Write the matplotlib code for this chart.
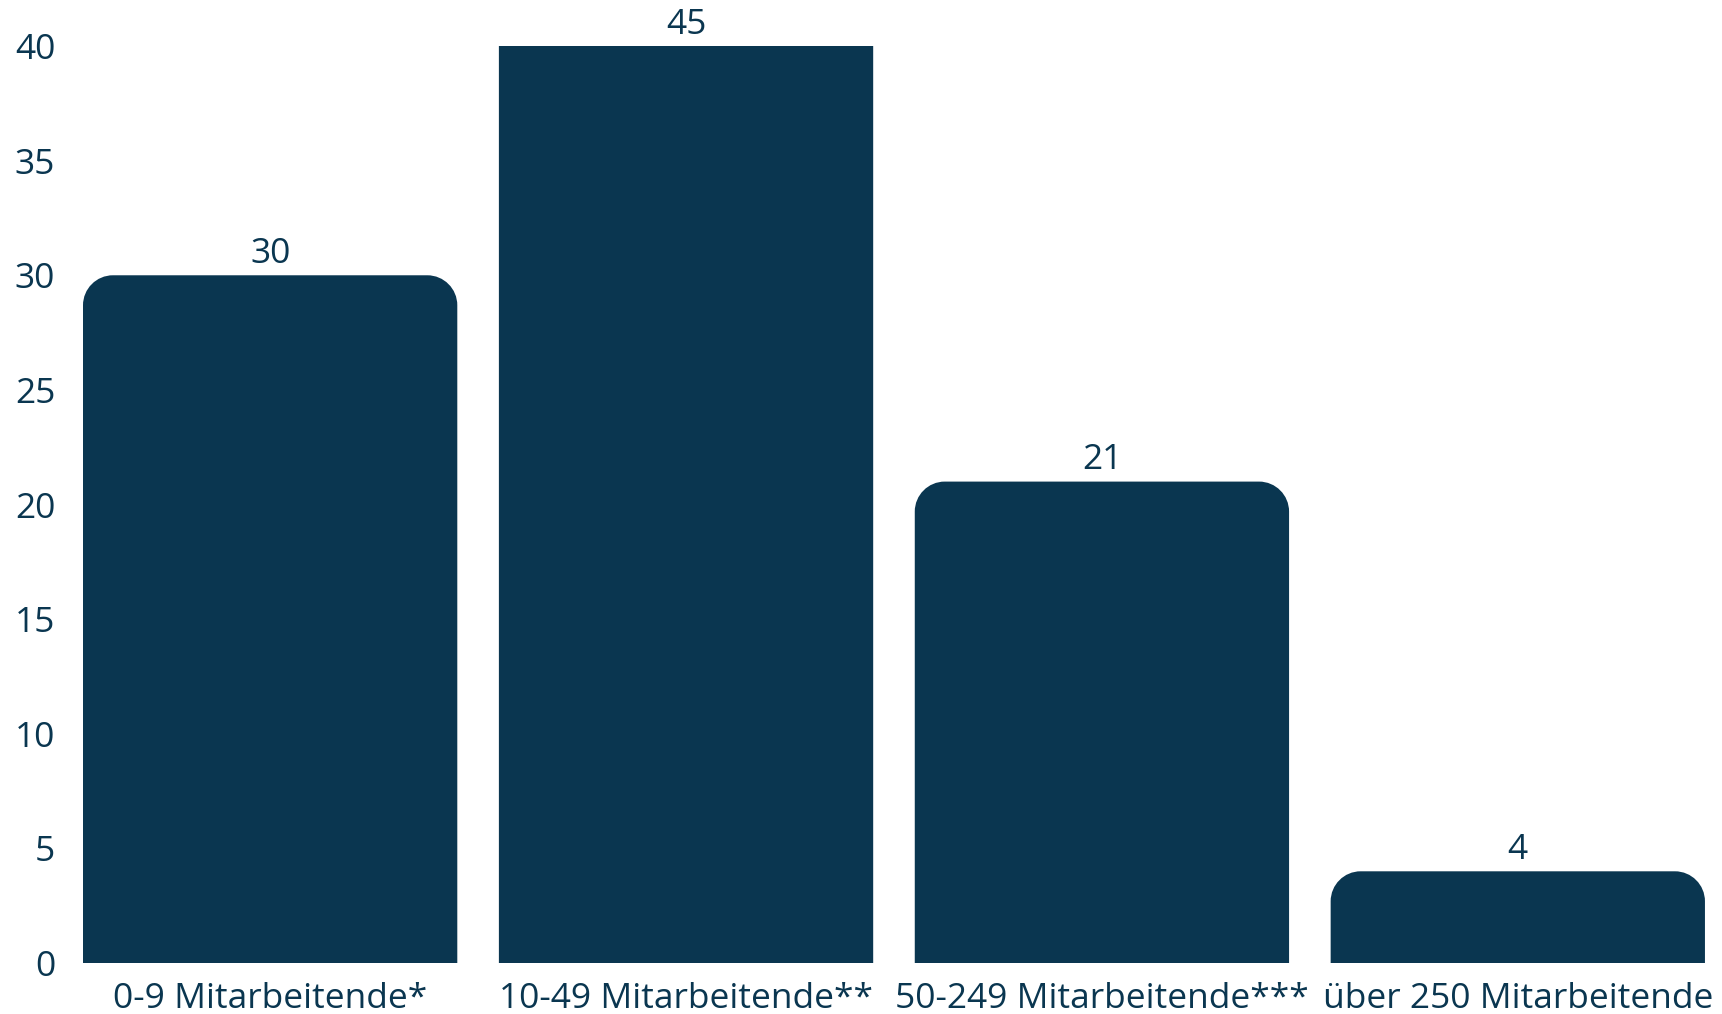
import matplotlib
matplotlib.use("Agg")
import matplotlib.pyplot as plt
from matplotlib.path import Path
from matplotlib.patches import PathPatch

categories = ["0-9 Mitarbeitende*", "10-49 Mitarbeitende**", "50-249 Mitarbeitende***", "über 250 Mitarbeitende"]
values = [30, 45, 21, 4]
yticks = [0, 5, 10, 15, 20, 25, 30, 35, 40]

color = "#0a3650"
plt.rcParams['font.family'] = ['Open Sans', 'DejaVu Sans']

fig = plt.figure(figsize=(17.22, 10.14), dpi=100)
ax = fig.add_axes([0.0482, 0.0503, 0.9419, 0.9043])
ax.set_ylim(0, 40)
ax.set_xlim(-0.45, 3.45)

bars = ax.bar(range(len(values)), values, width=0.9, color=color)

fig.canvas.draw()
r_px = 30
p0 = ax.transData.transform((0, 0))
p1 = ax.transData.transform((1, 1))
rx = r_px / (p1[0] - p0[0])
ry = r_px / (p1[1] - p0[1])
k = 0.5523
for b in bars:
    x0 = b.get_x(); w = b.get_width(); h = b.get_height()
    x1 = x0 + w
    verts = [(x0, 0), (x0, h - ry),
             (x0, h - ry + k * ry), (x0 + rx - k * rx, h), (x0 + rx, h),
             (x1 - rx, h),
             (x1 - rx + k * rx, h), (x1, h - ry + k * ry), (x1, h - ry),
             (x1, 0), (x0, 0)]
    codes = [Path.MOVETO, Path.LINETO,
             Path.CURVE4, Path.CURVE4, Path.CURVE4,
             Path.LINETO,
             Path.CURVE4, Path.CURVE4, Path.CURVE4,
             Path.LINETO, Path.CLOSEPOLY]
    patch = PathPatch(Path(verts, codes), facecolor=color, edgecolor='none')
    ax.add_patch(patch)
    b.set_visible(False)
    ytop = min(h, 40)
    ax.annotate(str(int(h)), (x0 + w / 2, ytop), xytext=(0, 3), textcoords='offset points',
                ha='center', va='bottom', fontsize=25.5, color=color, annotation_clip=False)

ax.set_xticks(range(len(categories)))
ax.set_xticklabels(categories)
ax.set_yticks(yticks)
ax.tick_params(axis='x', length=0, pad=14, labelsize=25.5, labelcolor=color)
ax.tick_params(axis='y', length=0, pad=20, labelsize=25.5, labelcolor=color)
for s in ax.spines.values():
    s.set_visible(False)

fig.savefig("out.png", dpi=100)
